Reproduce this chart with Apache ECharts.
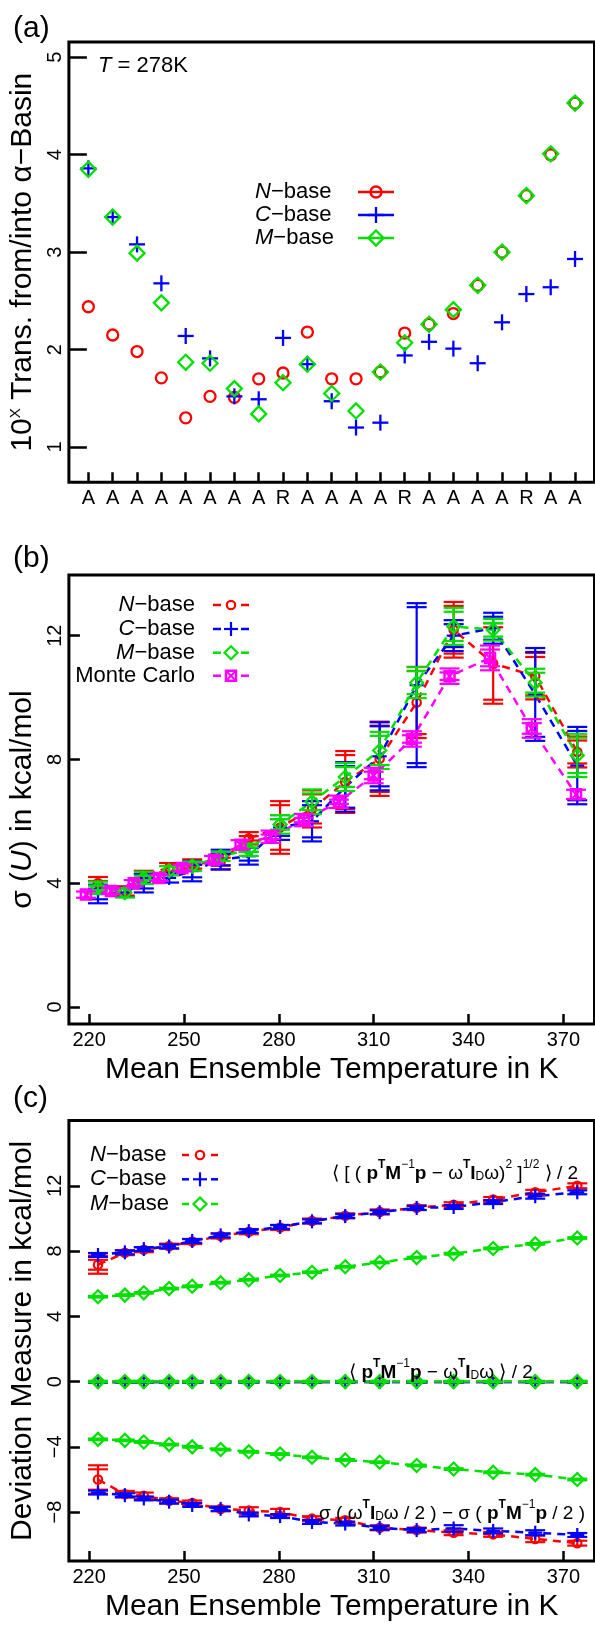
<!DOCTYPE html>
<html><head><meta charset="utf-8">
<script src="https://cdn.jsdelivr.net/npm/echarts@6/dist/echarts.min.js"></script>
<style>html,body{margin:0;padding:0;background:#fff}#page{position:relative;width:595px;height:1627px;overflow:hidden}
.p{position:absolute;left:0;width:595px}</style>
</head><body><div id="page">
<div id="pa" class="p" style="top:0;height:525px"></div>
<div id="pb" class="p" style="top:525px;height:565px"></div>
<div id="pc" class="p" style="top:1082px;height:545px"></div>
</div>
<script>
// ---------- Panel (a) data ----------
const aLabels = ['A','A','A','A','A','A','A','A','R','A','A','A','A','R','A','A','A','A','R','A','A'];
const aN = [2.44, 2.15, 1.98, 1.71, 1.30, 1.52, 1.51, 1.70, 1.76, 2.18, 1.70, 1.70, 1.77, 2.17, 2.26, 2.37, 2.66, 3.00, 3.58, 4.00, 4.53];
const aC = [3.86, 3.36, 3.08, 2.68, 2.14, 1.91, 1.52, 1.49, 2.12, 1.85, 1.47, 1.20, 1.25, 1.94, 2.08, 2.01, 1.86, 2.28, 2.57, 2.64, 2.93];
const aM = [3.85, 3.36, 2.99, 2.48, 1.87, 1.86, 1.60, 1.34, 1.66, 1.85, 1.55, 1.37, 1.77, 2.07, 2.26, 2.41, 2.66, 3.00, 3.58, 4.01, 4.53];
const aYTicks = [1, 2, 3, 4, 5];

// ---------- Panel (b) data ----------
const temps = [222.8, 231.3, 237.3, 245.3, 252.6, 261.6, 270.5, 280.4, 290.5, 301.0, 311.9, 323.6, 335.3, 347.8, 361.1, 374.4];
const mcTemps = [219.0, 226.9, 234.1, 242.1, 249.5, 259.5, 267.9, 277.4, 287.9, 299.0, 310.0, 322.1, 334.0, 346.8, 360.0, 374.0];
const bN    = [4.00, 3.75, 4.25, 4.50, 4.62, 4.70, 5.45, 5.80, 6.40, 7.27, 8.02, 9.84, 12.19, 11.10, 10.69, 8.24];
const bNerr = [0.20, 0.15, 0.15, 0.15, 0.15, 0.25, 0.20, 0.85, 0.60, 1.00, 1.20, 1.15, 0.90, 1.30, 0.75, 0.50];
const bC    = [3.65, 3.70, 4.00, 4.17, 4.39, 4.76, 4.87, 5.80, 6.00, 7.11, 8.10, 10.40, 12.00, 12.24, 10.10, 7.80];
const bCerr = [0.30, 0.15, 0.30, 0.15, 0.33, 0.32, 0.27, 0.40, 0.65, 0.80, 1.10, 2.65, 0.50, 0.50, 1.50, 1.25];
const bM    = [3.85, 3.69, 4.17, 4.40, 4.55, 4.87, 5.08, 5.90, 6.63, 7.43, 8.29, 10.48, 12.30, 12.19, 10.48, 8.13];
const bMerr = [0.20, 0.15, 0.20, 0.15, 0.15, 0.15, 0.20, 0.30, 0.40, 0.45, 0.60, 0.50, 0.60, 0.35, 0.45, 0.70];
const bMC    = [3.63, 3.75, 4.00, 4.17, 4.49, 4.76, 5.24, 5.50, 6.04, 6.63, 7.48, 8.66, 10.69, 11.28, 9.00, 6.87];
const bMCerr = [0.10, 0.10, 0.10, 0.10, 0.10, 0.12, 0.15, 0.20, 0.20, 0.20, 0.25, 0.25, 0.25, 0.40, 0.30, 0.15];
const bYTicks = [0, 4, 8, 12];
const tTicks = [220, 250, 280, 310, 340, 370];

// ---------- Panel (c) data ----------
const c1N    = [7.16, 7.90, 8.08, 8.30, 8.58, 8.92, 9.18, 9.44, 9.84, 10.16, 10.40, 10.66, 10.84, 11.16, 11.60, 12.00];
const c1Nerr = [0.55, 0.15, 0.15, 0.15, 0.15, 0.15, 0.15, 0.15, 0.15, 0.15, 0.15, 0.15, 0.15, 0.15, 0.15, 0.15];
const c1C    = [7.76, 7.92, 8.12, 8.28, 8.62, 8.96, 9.22, 9.48, 9.82, 10.14, 10.38, 10.64, 10.70, 11.00, 11.36, 11.60];
const c1Cerr = [0.12, 0.12, 0.12, 0.12, 0.12, 0.12, 0.12, 0.12, 0.12, 0.12, 0.12, 0.12, 0.12, 0.12, 0.15, 0.12];
const c1M    = [5.20, 5.30, 5.44, 5.70, 5.84, 6.06, 6.24, 6.50, 6.70, 7.04, 7.30, 7.60, 7.84, 8.16, 8.44, 8.80];
const c1Merr = [0.05, 0.05, 0.05, 0.05, 0.05, 0.05, 0.05, 0.05, 0.05, 0.05, 0.05, 0.05, 0.05, 0.05, 0.05, 0.05];
const c2N    = [-0.03, -0.03, -0.02, -0.03, -0.02, -0.02, -0.02, -0.02, -0.02, -0.02, -0.02, -0.02, -0.02, -0.02, -0.02, -0.02];
const c2C    = [-0.02, -0.02, -0.02, -0.02, -0.02, -0.02, -0.02, -0.02, -0.02, -0.02, -0.02, -0.02, -0.02, -0.02, -0.02, -0.02];
const c2M    = [0.00, 0.00, 0.00, 0.00, 0.00, 0.00, 0.00, 0.00, 0.00, 0.00, 0.00, 0.00, 0.00, 0.00, 0.00, 0.00];
const c2err  = [0.05, 0.05, 0.05, 0.05, 0.05, 0.05, 0.05, 0.05, 0.05, 0.05, 0.05, 0.05, 0.05, 0.05, 0.05, 0.05];
const c3N    = [-6.00, -6.90, -7.00, -7.30, -7.44, -7.80, -7.90, -8.00, -8.40, -8.50, -8.96, -9.10, -9.26, -9.36, -9.64, -9.90];
const c3Nerr = [0.87, 0.20, 0.20, 0.15, 0.15, 0.15, 0.20, 0.20, 0.15, 0.15, 0.15, 0.15, 0.15, 0.15, 0.20, 0.15];
const c3C    = [-6.80, -6.96, -7.16, -7.36, -7.56, -7.80, -8.14, -8.24, -8.60, -8.70, -8.96, -9.10, -9.00, -9.15, -9.26, -9.40];
const c3Cerr = [0.12, 0.12, 0.12, 0.12, 0.12, 0.12, 0.12, 0.12, 0.12, 0.12, 0.12, 0.12, 0.20, 0.15, 0.15, 0.12];
const c3M    = [-3.54, -3.60, -3.70, -3.86, -4.00, -4.16, -4.30, -4.44, -4.64, -4.80, -4.94, -5.14, -5.36, -5.56, -5.70, -6.00];
const c3Merr = [0.05, 0.05, 0.05, 0.05, 0.05, 0.05, 0.05, 0.05, 0.05, 0.05, 0.05, 0.05, 0.05, 0.05, 0.05, 0.05];
const cYTicks = [-8, -4, 0, 4, 8, 12];

// ---------- styling ----------
const FONT = '"Liberation Sans", Arial, Helvetica, sans-serif';
const RED = '#ff0000', BLUE = '#0000ff', GREEN = '#00e000', MAG = '#ff00ff';

function mk(kind, x, y, color, big) {
  const st = () => ({stroke: color, lineWidth: big ? 2.3 : 2.2, fill: null});
  if (kind === 'circle') return {type: 'circle', shape: {cx: x, cy: y, r: big ? 5.5 : 4.2}, style: st()};
  if (kind === 'diamond') { const h = big ? 7.5 : 6.5; return {type: 'polygon', shape: {points: [[x, y - h], [x + h, y], [x, y + h], [x - h, y]]}, style: st()}; }
  if (kind === 'plus') { const h = big ? 8 : 7; return {type: 'group', children: [
      {type: 'line', shape: {x1: x - h, y1: y, x2: x + h, y2: y}, style: st()},
      {type: 'line', shape: {x1: x, y1: y - h, x2: x, y2: y + h}, style: st()}]}; }
  const h = 5;
  return {type: 'group', children: [
    {type: 'rect', shape: {x: x - h, y: y - h, width: 2 * h, height: 2 * h}, style: {stroke: color, lineWidth: 2.5, fill: null}},
    {type: 'line', shape: {x1: x - h, y1: y - h, x2: x + h, y2: y + h}, style: {stroke: color, lineWidth: 2}},
    {type: 'line', shape: {x1: x - h, y1: y + h, x2: x + h, y2: y - h}, style: {stroke: color, lineWidth: 2}}]};
}

function pointSeries(xs, ys, errs, kind, color, big, z) {
  return {
    type: 'custom', z: z || 5,
    data: xs.map((x, i) => [x, ys[i], errs ? errs[i] : 0]),
    renderItem: (params, api) => {
      const x = api.value(0), y = api.value(1), e = api.value(2);
      const p = api.coord([x, y]);
      const ch = [];
      if (e > 0) {
        const t = api.coord([x, y + e])[1], b = api.coord([x, y - e])[1];
        const cap = yy => ({type: 'line', shape: {x1: p[0] - 10, y1: yy, x2: p[0] + 10, y2: yy}, style: {stroke: color, lineWidth: 2.2}});
        ch.push({type: 'line', shape: {x1: p[0], y1: t, x2: p[0], y2: b}, style: {stroke: color, lineWidth: 2.2}});
        ch.push(cap(t), cap(b));
        if (b - t > 12) ch.push(cap(t + 4), cap(b - 4));
      }
      ch.push(mk(kind, p[0], p[1], color, big));
      return {type: 'group', children: ch};
    }
  };
}
function dashSeries(xs, ys, color) {
  return {type: 'line', z: 2, data: xs.map((x, i) => [x, ys[i]]), symbol: 'none',
    lineStyle: {color: color, width: 2.5, type: [8, 6]}};
}

const tickStyle = {color: '#000', width: 2.5};
const minus = v => String(v).replace('-', '\u2212');
function xAx(min, max, ticks, fmt, nameTxt, gap) {
  return {type: 'value', min: min, max: max,
    axisLine: {show: false, onZero: false}, splitLine: {show: false},
    axisTick: {show: true, inside: true, length: 10, lineStyle: tickStyle, customValues: ticks},
    axisLabel: {customValues: ticks, margin: 6, formatter: fmt, color: '#000', fontSize: 20, fontFamily: FONT},
    name: nameTxt || '', nameLocation: 'middle', nameGap: gap || 0,
    nameTextStyle: {fontSize: 30, fontFamily: FONT, color: '#000'}};
}
const nameRich = {
  n: {fontSize: 30, fontFamily: FONT, color: '#000', lineHeight: 30, verticalAlign: 'bottom'},
  i: {fontSize: 30, fontFamily: FONT, color: '#000', fontStyle: 'italic', lineHeight: 30, verticalAlign: 'bottom'},
  sup: {fontSize: 15, fontFamily: FONT, color: '#000', lineHeight: 21, verticalAlign: 'top'}
};
function yAx(min, max, ticks, tlen, nameTxt) {
  return {type: 'value', min: min, max: max,
    axisLine: {show: false, onZero: false}, splitLine: {show: false},
    axisTick: {show: true, inside: true, length: tlen, lineStyle: tickStyle, customValues: ticks},
    axisLabel: {customValues: ticks, margin: 3, rotate: 90, formatter: minus, color: '#000', fontSize: 20, fontFamily: FONT},
    name: nameTxt, nameLocation: 'middle', nameGap: 23,
    nameTextStyle: {fontSize: 30, fontFamily: FONT, color: '#000', rich: nameRich}};
}
function grid(top, height) {
  return {left: 68, width: 526.5, top: top, height: height, show: true, borderColor: '#000', borderWidth: 3};
}

// ---------- graphic helpers (panel-local coordinates) ----------
const legRich = s => ({
  n: {fontSize: s, fontFamily: FONT, fill: '#000'},
  i: {fontSize: s, fontFamily: FONT, fill: '#000', fontStyle: 'italic'}
});
function txt(G, x, y, text, size, align, rich) {
  G.push({type: 'text', x: x, y: y, z: 20, style: {text: text, fontSize: size, fontFamily: FONT, fill: '#000',
    align: align || 'left', verticalAlign: 'middle', rich: rich}});
}
const legRows = [['N', RED, 'circle'], ['C', BLUE, 'plus'], ['M', GREEN, 'diamond'], ['MC', MAG, 'square']];
const legText = r => r[0] === 'MC' ? '{n|Monte Carlo}' : '{i|' + r[0] + '}{n|\u2212base}';
const annRich = {
  n: {fontSize: 19, fontFamily: FONT, fill: '#000', lineHeight: 24, verticalAlign: 'bottom'},
  b: {fontSize: 19, fontFamily: FONT, fill: '#000', fontWeight: 'bold', lineHeight: 24, verticalAlign: 'bottom'},
  sup: {fontSize: 12, fontFamily: FONT, fill: '#000', lineHeight: 15, verticalAlign: 'top'},
  supb: {fontSize: 12, fontFamily: FONT, fill: '#000', fontWeight: 'bold', lineHeight: 15, verticalAlign: 'top'},
  sub: {fontSize: 12, fontFamily: FONT, fill: '#000', lineHeight: 12, verticalAlign: 'bottom'}
};

// ---------- panel (a) ----------
const aIdx = aLabels.map((_, i) => i + 1);
const GA = [];
txt(GA, 13, 28.5, '(a)', 30);
txt(GA, 98, 65.5, '{i|T}{n| = 278K}', 22, 'left', legRich(22));
[192, 215, 238].forEach((y, k) => {
  const r = legRows[k];
  txt(GA, 255, y, legText(r), 22, 'left', legRich(22));
  GA.push({type: 'line', shape: {x1: 358, y1: y, x2: 394, y2: y}, style: {stroke: r[1], lineWidth: 2.5}});
  GA.push(mk(r[2], 376, y, r[1], true));
});
echarts.init(document.getElementById('pa')).setOption({
  animation: false,
  grid: [grid(42, 440.3)],
  xAxis: [xAx(0.2, 21.8, aIdx, v => aLabels[Math.round(v) - 1])],
  yAxis: [yAx(0.638, 5.157, aYTicks, 18, '{n|10}{sup|X}{n| Trans. from/into \u03B1\u2212Basin}')],
  series: [
    pointSeries(aIdx, aN, null, 'circle', RED, true, 5),
    pointSeries(aIdx, aC, null, 'plus', BLUE, true, 6),
    pointSeries(aIdx, aM, null, 'diamond', GREEN, true, 7)
  ],
  graphic: GA
});

// ---------- panel (b) ---------- (div top = 525)
const OB = 525;
const GB = [];
txt(GB, 13, 558.5 - OB, '(b)', 30);
[605, 629, 652.7, 675.7].forEach((y0, k) => {
  const r = legRows[k], y = y0 - OB;
  txt(GB, 195, y, legText(r), 22, 'right', legRich(22));
  GB.push({type: 'line', shape: {x1: 213, y1: y, x2: 221, y2: y}, style: {stroke: r[1], lineWidth: 2.5}});
  GB.push({type: 'line', shape: {x1: 241, y1: y, x2: 249, y2: y}, style: {stroke: r[1], lineWidth: 2.5}});
  GB.push(mk(r[2], 231, y, r[1], false));
});
echarts.init(document.getElementById('pb')).setOption({
  animation: false,
  grid: [grid(575 - OB, 452.3)],
  xAxis: [xAx(213.6, 379.85, tTicks, v => String(v), 'Mean Ensemble Temperature in K', 27)],
  yAxis: [yAx(-0.555, 13.96, bYTicks, 11, '{n|\u03C3 (}{i|U}{n|) in kcal/mol}')],
  series: [
    dashSeries(temps, bN, RED), dashSeries(temps, bC, BLUE),
    dashSeries(temps, bM, GREEN), dashSeries(mcTemps, bMC, MAG),
    pointSeries(temps, bN, bNerr, 'circle', RED, false, 5),
    pointSeries(temps, bC, bCerr, 'plus', BLUE, false, 6),
    pointSeries(temps, bM, bMerr, 'diamond', GREEN, false, 7),
    pointSeries(mcTemps, bMC, bMCerr, 'square', MAG, false, 8)
  ],
  graphic: GB
});

// ---------- panel (c) ---------- (div top = 1082)
const OC = 1082;
const GC = [];
txt(GC, 13, 1099 - OC, '(c)', 30);
[1155, 1179.3, 1204].forEach((y0, k) => {
  const r = legRows[k], y = y0 - OC;
  txt(GC, 90, y, legText(r), 22, 'left', legRich(22));
  GC.push({type: 'line', shape: {x1: 182, y1: y, x2: 189, y2: y}, style: {stroke: r[1], lineWidth: 2.5}});
  GC.push({type: 'line', shape: {x1: 211, y1: y, x2: 218, y2: y}, style: {stroke: r[1], lineWidth: 2.5}});
  GC.push(mk(r[2], 200, y, r[1], false));
});
txt(GC, 578, 1171 - OC, '{n|\u27E8 [ ( }{b|p}{supb|T}{b|M}{sup|\u22121}{b|p}{n| \u2212 \u03C9}{supb|T}{b|I}{sub|D}{n|\u03C9)}{sup|2}{n| ]}{sup|1/2}{n| \u27E9 / 2}', 19, 'right', annRich);
txt(GC, 441, 1370 - OC, '{n|\u27E8 }{b|p}{supb|T}{b|M}{sup|\u22121}{b|p}{n| \u2212 \u03C9}{supb|T}{b|I}{sub|D}{n|\u03C9 \u27E9 / 2}', 19, 'center', annRich);
txt(GC, 585, 1511 - OC, '{n|\u03C3 ( \u03C9}{supb|T}{b|I}{sub|D}{n|\u03C9 / 2 ) \u2212 \u03C3 ( }{b|p}{supb|T}{b|M}{sup|\u22121}{b|p}{n| / 2 )}', 19, 'right', annRich);
echarts.init(document.getElementById('pc')).setOption({
  animation: false,
  grid: [grid(1120.5 - OC, 450.2)],
  xAxis: [xAx(213.6, 379.85, tTicks, v => String(v), 'Mean Ensemble Temperature in K', 29)],
  yAxis: [yAx(-11, 16, cYTicks, 11, '{n|Deviation Measure in kcal/mol}')],
  series: [
    dashSeries(temps, c1N, RED), dashSeries(temps, c1C, BLUE), dashSeries(temps, c1M, GREEN),
    dashSeries(temps, c2N, RED), dashSeries(temps, c2C, BLUE), dashSeries(temps, c2M, GREEN),
    dashSeries(temps, c3N, RED), dashSeries(temps, c3C, BLUE), dashSeries(temps, c3M, GREEN),
    pointSeries(temps, c1N, c1Nerr, 'circle', RED, false, 5),
    pointSeries(temps, c1C, c1Cerr, 'plus', BLUE, false, 6),
    pointSeries(temps, c1M, c1Merr, 'diamond', GREEN, false, 7),
    pointSeries(temps, c2N, c2err, 'circle', RED, false, 5),
    pointSeries(temps, c2C, c2err, 'plus', BLUE, false, 6),
    pointSeries(temps, c2M, c2err, 'diamond', GREEN, false, 7),
    pointSeries(temps, c3N, c3Nerr, 'circle', RED, false, 5),
    pointSeries(temps, c3C, c3Cerr, 'plus', BLUE, false, 6),
    pointSeries(temps, c3M, c3Merr, 'diamond', GREEN, false, 7)
  ],
  graphic: GC
});
</script>
</body></html>
